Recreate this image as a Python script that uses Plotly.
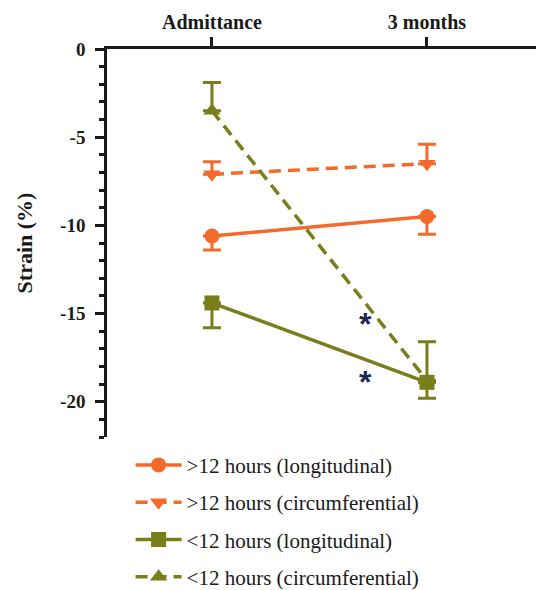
import plotly.graph_objects as go

timepoints = ["Admittance", "3 months"]
x_pos = [0, 1]
y_ticks = [0, -5, -10, -15, -20]
y_ticktext = ["0", "-5", "-10", "-15", "-20"]

series_names = [">12 hours (longitudinal)", ">12 hours (circumferential)",
                "<12 hours (longitudinal)", "<12 hours (circumferential)"]
gt12_long = [-10.6, -9.5]
gt12_long_err_down = [0.8, 1.0]
gt12_circ = [-7.1, -6.5]
gt12_circ_err_up = [0.7, 1.1]
lt12_long = [-14.4, -18.9]
lt12_long_err_down = [1.4, 0.9]
lt12_circ = [-3.5, -18.8]
lt12_circ_err_up = [1.6, 2.2]

star_x = [0.716, 0.716]
star_y = [-15.35, -18.64]

ORANGE = "#F26A2C"
OLIVE = "#7A7E1A"
NAVY = "#1E2850"
FONT = "Liberation Serif"
INK = "#1a1a1a"

fig = go.Figure()

def add(name, y, up, down, color, symbol, dash, group):
    fig.add_trace(go.Scatter(
        x=x_pos, y=y, name=name, mode="lines+markers",
        legendgroup=group,
        line=dict(color=color, width=3.5, dash=dash),
        marker=dict(symbol=symbol, size=15, color=color),
        error_y=dict(type="data", symmetric=False,
                     array=up, arrayminus=down,
                     color=color, thickness=3, width=9),
    ))

add(series_names[0], gt12_long, [0, 0], gt12_long_err_down, ORANGE, "circle", "solid", "a")
add(series_names[1], gt12_circ, gt12_circ_err_up, [0, 0], ORANGE, "triangle-down", "12px,7px", "b")
add(series_names[2], lt12_long, [0, 0], lt12_long_err_down, OLIVE, "square", "solid", "c")
add(series_names[3], lt12_circ, lt12_circ_err_up, [0, 0], OLIVE, "triangle-up", "12px,7px", "d")

for sx, sy in zip(star_x, star_y):
    fig.add_annotation(x=sx, y=sy, text="<b>*</b>", showarrow=False,
                       font=dict(family="Liberation Sans", size=32, color=NAVY),
                       yshift=-4)

fig.update_layout(
    width=536, height=590,
    margin=dict(l=107, r=0, t=49, b=153, autoexpand=False),
    paper_bgcolor="white", plot_bgcolor="white",
    font=dict(family=FONT, color=INK),
    showlegend=True,
    legend=dict(x=0.055, y=-0.02, xanchor="left", yanchor="top",
                traceorder="grouped", tracegroupgap=7, itemwidth=46,
                font=dict(family=FONT, size=21, color=INK),
                bgcolor="rgba(0,0,0,0)"),
    xaxis=dict(side="top", range=[-0.488, 1.507], tickvals=x_pos, ticktext=timepoints,
               automargin=False,
               showline=True, linecolor=INK, linewidth=2.5,
               ticks="outside", ticklen=9, tickwidth=2.5, tickcolor=INK,
               showgrid=False, zeroline=False,
               tickfont=dict(family=FONT, size=20, color=INK, weight="bold")),
    yaxis=dict(range=[-22, 0], tickvals=y_ticks, ticktext=y_ticktext,
               automargin=False, ticklabelstandoff=6,
               showline=True, linecolor=INK, linewidth=2.5,
               ticks="outside", ticklen=9, tickwidth=2.5, tickcolor=INK,
               minor=dict(dtick=1, ticks="outside", ticklen=5, tickwidth=2.5, tickcolor=INK),
               showgrid=False, zeroline=False,
               title=dict(text="<b>Strain (%)</b>", font=dict(family=FONT, size=22, color=INK), standoff=22),
               tickfont=dict(family=FONT, size=19, color=INK, weight="bold")),
)

fig.write_html("out.html", config={"displayModeBar": False},
               post_script="document.body.style.margin='0';")
